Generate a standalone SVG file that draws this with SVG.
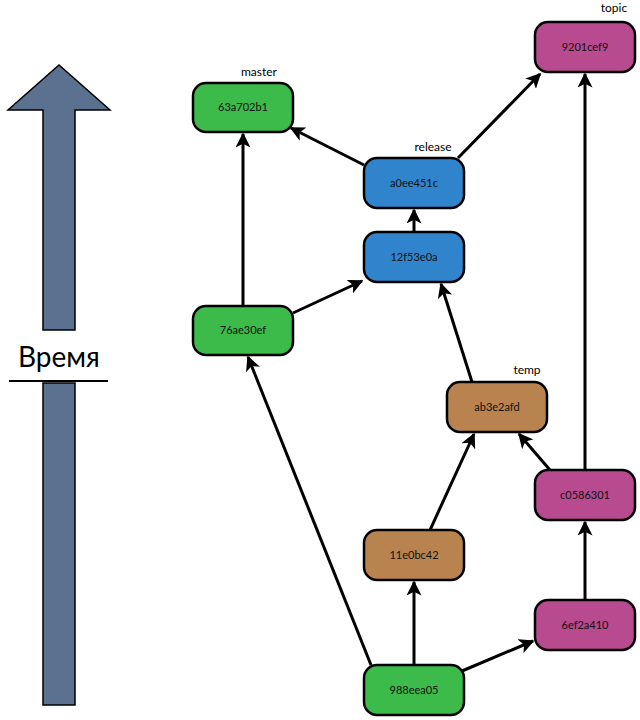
<svg xmlns="http://www.w3.org/2000/svg" width="640" height="720" viewBox="0 0 640 720">
<style>
.n rect{stroke:#000;stroke-width:2.5}
.g{fill:#3cba4a}.b{fill:#2f84cc}.o{fill:#b8834f}.m{fill:#b84a90}
.t{font-family:Lato,"Liberation Sans",sans-serif;font-size:11px;fill:#111;text-anchor:middle}
.l{font-family:Lato,"Liberation Sans",sans-serif;font-size:12px;fill:#000;text-anchor:middle}
#edges line{stroke:#000;stroke-width:3;marker-end:url(#ah)}
</style>
<defs>
<marker id="ah" viewBox="0 0 10 10" refX="9" refY="5" markerWidth="5" markerHeight="5" orient="auto" markerUnits="strokeWidth">
<path d="M0,0 L10,5 L0,10 L2.5,5 Z" fill="#000"/>
</marker>
</defs>
<rect width="640" height="720" fill="#fff"/>
<g id="time-arrow">
<path d="M43,330 L43,110 L8,110 L59,65 L110,110 L75,110 L75,330 Z" fill="#5b7190" stroke="#000" stroke-width="1.5"/>
<path d="M43,705 L43,383 L75,383 L75,705 Z" fill="#5b7190" stroke="#000" stroke-width="1.5"/>
<text x="59" y="367" font-family="Lato,'Liberation Sans',sans-serif" font-size="28" text-anchor="middle" fill="#000">Время</text>
<line x1="9" y1="381" x2="108" y2="381" stroke="#000" stroke-width="2"/>
</g>
<g id="edges">
<line x1="243" y1="306" x2="243" y2="134"/>
<line x1="364" y1="165" x2="291" y2="128"/>
<line x1="458" y1="158" x2="540" y2="74"/>
<line x1="414" y1="232" x2="414" y2="210"/>
<line x1="293" y1="313" x2="362" y2="281"/>
<line x1="472" y1="382" x2="441" y2="284"/>
<line x1="550" y1="470" x2="519" y2="434"/>
<line x1="585" y1="470" x2="585" y2="74"/>
<line x1="430" y1="530" x2="474" y2="434"/>
<line x1="414" y1="665" x2="414" y2="582"/>
<line x1="371" y1="665" x2="248" y2="357"/>
<line x1="462" y1="671" x2="533" y2="641"/>
<line x1="585" y1="600" x2="585" y2="522"/>
</g>
<g id="n63a702b1" class="n"><rect class="g" x="193" y="83" width="100" height="49" rx="13"/><text class="t" x="243" y="111">63a702b1</text><text class="l" x="259" y="76">master</text></g>
<g id="na0ee451c" class="n"><rect class="b" x="364" y="158" width="100" height="50" rx="13"/><text class="t" x="414" y="187">a0ee451c</text><text class="l" x="433" y="151">release</text></g>
<g id="n12f53e0a" class="n"><rect class="b" x="364" y="232" width="100" height="50" rx="13"/><text class="t" x="414" y="261">12f53e0a</text></g>
<g id="n9201cef9" class="n"><rect class="m" x="535" y="22" width="100" height="50" rx="13"/><text class="t" x="585" y="51">9201cef9</text><text class="l" x="614" y="12">topic</text></g>
<g id="n76ae30ef" class="n"><rect class="g" x="193" y="306" width="100" height="49" rx="13"/><text class="t" x="243" y="334">76ae30ef</text></g>
<g id="nab3e2afd" class="n"><rect class="o" x="447" y="382" width="100" height="50" rx="13"/><text class="t" x="497" y="411">ab3e2afd</text><text class="l" x="527" y="374">temp</text></g>
<g id="n11e0bc42" class="n"><rect class="o" x="364" y="530" width="100" height="50" rx="13"/><text class="t" x="414" y="559">11e0bc42</text></g>
<g id="nc0586301" class="n"><rect class="m" x="535" y="470" width="100" height="50" rx="13"/><text class="t" x="585" y="499">c0586301</text></g>
<g id="n6ef2a410" class="n"><rect class="m" x="535" y="600" width="100" height="50" rx="13"/><text class="t" x="585" y="629">6ef2a410</text></g>
<g id="n988eea05" class="n"><rect class="g" x="364" y="665" width="100" height="50" rx="13"/><text class="t" x="414" y="694">988eea05</text></g>
</svg>
